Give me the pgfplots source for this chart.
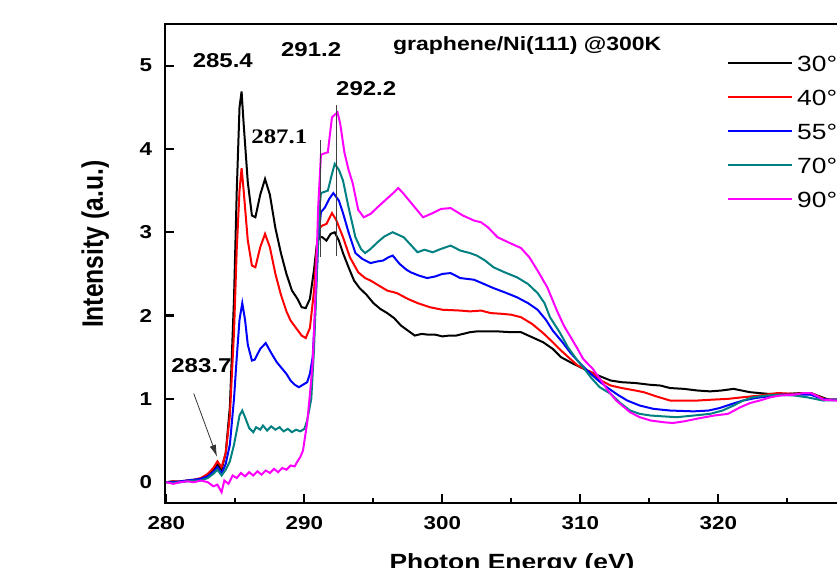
\documentclass[border=0pt]{standalone}
\usepackage{pgfplots}
\pgfplotsset{compat=1.18}
\usepackage{fontspec}
\setmainfont{Liberation Sans}[FakeStretch=1.2]
\newfontfamily\serifstretch{Liberation Serif}[FakeStretch=1.2]
\newfontfamily\plainsans{Liberation Sans}
\usetikzlibrary{arrows.meta}
\definecolor{cteal}{RGB}{0,128,128}
\definecolor{cmag}{RGB}{255,0,255}

\pgfplotstableread{
x y
280.0 0.00
280.5 0.01
281.0 0.00
281.5 0.02
282.0 0.02
282.5 0.04
283.0 0.08
283.4 0.14
283.7 0.22
284.0 0.15
284.3 0.35
284.6 0.9
284.9 2.2
285.1 3.5
285.3 4.5
285.45 4.69
285.6 4.3
285.9 3.6
286.2 3.2
286.45 3.18
286.8 3.45
287.15 3.64
287.5 3.45
287.9 3.05
288.3 2.75
288.7 2.5
289.1 2.3
289.5 2.2
289.8 2.1
290.1 2.09
290.4 2.2
290.7 2.55
290.9 2.85
291.1 2.95
291.3 2.94
291.6 2.9
291.9 2.98
292.2 3.0
292.5 2.9
292.8 2.75
293.2 2.58
293.6 2.42
294.0 2.33
294.5 2.25
295.0 2.15
295.5 2.08
296.0 2.03
296.5 1.97
297.0 1.88
297.5 1.82
298.0 1.76
298.5 1.78
299.0 1.77
299.5 1.77
300.0 1.75
300.5 1.76
301.0 1.76
301.5 1.78
302.0 1.80
302.5 1.81
303.0 1.81
304.0 1.81
305.0 1.80
305.7 1.80
306.5 1.74
307.3 1.68
308.0 1.60
308.6 1.50
309.5 1.42
310.5 1.34
311.3 1.28
312.2 1.22
313.0 1.20
314.0 1.19
315.0 1.17
315.8 1.16
316.5 1.13
317.5 1.12
318.5 1.10
319.4 1.09
320.2 1.10
321.1 1.12
322.3 1.08
323.6 1.06
325.0 1.06
326.0 1.07
326.7 1.07
327.5 1.02
328.0 0.99
329.0 0.99
330.0 0.99
}\tblA

\pgfplotstableread{
x y
280.0 0.00
280.5 0.01
281.0 0.01
281.5 0.02
282.0 0.03
282.5 0.05
283.0 0.10
283.4 0.17
283.7 0.25
284.0 0.18
284.3 0.35
284.6 0.8
284.9 1.8
285.1 2.8
285.3 3.5
285.45 3.77
285.6 3.5
285.9 2.9
286.2 2.6
286.45 2.58
286.8 2.82
287.15 2.98
287.5 2.82
287.9 2.5
288.3 2.25
288.7 2.05
289.0 1.94
289.4 1.85
289.8 1.76
290.1 1.73
290.4 1.85
290.7 2.3
290.9 2.8
291.1 3.05
291.3 3.08
291.6 3.1
292.0 3.23
292.3 3.15
292.8 2.94
293.3 2.7
293.9 2.52
294.4 2.45
294.8 2.42
295.5 2.35
296.0 2.30
296.7 2.27
297.5 2.20
298.2 2.15
299.1 2.10
300.0 2.07
301.3 2.06
302.0 2.05
302.8 2.06
303.5 2.03
304.4 2.02
305.0 2.01
305.7 1.98
306.5 1.90
307.3 1.79
308.0 1.68
308.6 1.58
309.2 1.49
309.8 1.40
310.9 1.31
311.5 1.22
312.2 1.16
313.0 1.13
314.0 1.10
314.6 1.08
315.5 1.03
316.5 0.98
317.5 0.98
318.5 0.98
319.5 0.99
320.7 1.00
321.8 1.02
323.0 1.04
324.3 1.07
325.5 1.06
326.7 1.07
327.5 1.01
328.0 0.99
330.0 0.99
}\tblB

\pgfplotstableread{
x y
280.0 0.00
280.5 0.00
281.0 0.01
281.5 0.02
282.0 0.03
282.5 0.04
283.0 0.07
283.4 0.12
283.7 0.18
284.0 0.10
284.3 0.22
284.6 0.45
284.9 1.0
285.1 1.5
285.3 1.95
285.5 2.15
285.7 1.95
285.9 1.65
286.2 1.46
286.4 1.47
286.8 1.6
287.2 1.67
287.6 1.55
288.0 1.44
288.3 1.38
288.7 1.30
289.0 1.22
289.3 1.17
289.6 1.14
289.9 1.17
290.2 1.20
290.4 1.30
290.6 1.50
290.8 2.1
291.0 2.9
291.2 3.24
291.5 3.3
291.8 3.4
292.1 3.47
292.5 3.38
292.8 3.23
293.2 3.0
293.7 2.75
294.2 2.68
294.8 2.63
295.3 2.65
295.7 2.66
296.1 2.7
296.4 2.72
296.9 2.62
297.4 2.55
297.7 2.52
298.3 2.48
298.9 2.45
299.5 2.47
300.0 2.50
300.6 2.51
301.3 2.45
302.3 2.43
303.0 2.38
303.7 2.33
304.5 2.28
305.4 2.22
306.2 2.15
306.9 2.07
307.5 1.95
308.0 1.82
308.7 1.68
309.3 1.55
309.9 1.44
310.5 1.34
311.3 1.22
312.0 1.13
312.7 1.05
313.4 0.98
314.3 0.92
315.3 0.88
316.5 0.86
318.2 0.85
319.3 0.86
320.1 0.89
321.0 0.94
321.8 0.98
322.7 1.01
323.6 1.03
324.5 1.05
325.5 1.05
326.7 1.05
327.5 1.00
328.0 0.99
330.0 0.99
}\tblC

\pgfplotstableread{
x y
280.0 0.00
280.5 -0.01
281.0 0.00
281.5 0.01
282.0 0.02
282.5 0.02
283.0 0.05
283.4 0.10
283.7 0.15
284.0 0.08
284.3 0.15
284.6 0.25
284.9 0.45
285.1 0.62
285.3 0.80
285.5 0.86
285.7 0.78
286.0 0.65
286.3 0.60
286.5 0.66
286.8 0.63
287.0 0.68
287.3 0.62
287.6 0.67
287.9 0.63
288.2 0.66
288.5 0.61
288.8 0.64
289.1 0.60
289.4 0.63
289.7 0.61
290.0 0.64
290.2 0.74
290.5 1.0
290.7 1.6
290.9 2.5
291.1 3.3
291.2 3.47
291.7 3.5
292.0 3.7
292.2 3.82
292.5 3.75
292.8 3.62
293.2 3.3
293.7 2.94
294.1 2.8
294.4 2.75
294.8 2.8
295.3 2.88
295.8 2.95
296.4 3.0
296.8 2.97
297.2 2.94
297.7 2.85
298.2 2.76
298.7 2.79
299.3 2.76
299.9 2.80
300.6 2.84
301.3 2.78
302.0 2.75
302.5 2.72
303.1 2.66
303.7 2.58
304.5 2.52
305.4 2.46
306.2 2.38
306.9 2.27
307.4 2.15
307.8 1.98
308.5 1.80
309.1 1.62
309.7 1.48
310.2 1.38
310.8 1.25
311.4 1.14
312.2 1.06
312.9 0.95
313.6 0.86
314.3 0.82
315.1 0.80
316.0 0.79
317.0 0.78
318.2 0.80
319.4 0.82
320.3 0.86
321.1 0.92
321.8 0.98
322.5 1.02
323.5 1.04
324.3 1.05
325.5 1.04
326.4 1.02
327.0 1.00
327.6 0.98
330.0 0.99
}\tblD

\pgfplotstableread{
x y
280.0 0.00
280.5 -0.02
281.0 0.00
281.5 0.01
282.0 0.00
282.5 0.02
283.0 0.00
283.4 -0.05
283.7 -0.03
284.0 -0.12
284.2 0.02
284.5 -0.02
284.8 0.08
285.1 0.05
285.4 0.11
285.7 0.07
286.0 0.12
286.3 0.08
286.6 0.13
286.9 0.09
287.2 0.14
287.5 0.11
287.8 0.16
288.1 0.12
288.4 0.17
288.7 0.15
289.0 0.20
289.3 0.19
289.5 0.25
289.7 0.30
289.9 0.38
290.2 0.71
290.4 1.05
290.6 1.43
290.8 2.22
291.0 3.3
291.2 3.93
291.5 3.95
291.7 3.96
292.0 4.38
292.4 4.44
292.6 4.3
292.9 3.96
293.2 3.75
293.5 3.59
293.9 3.27
294.3 3.18
294.8 3.22
295.3 3.30
295.7 3.36
296.1 3.42
296.5 3.48
296.8 3.53
297.1 3.48
297.4 3.42
298.0 3.30
298.6 3.18
299.3 3.23
299.9 3.28
300.6 3.29
301.0 3.25
301.5 3.20
302.3 3.14
302.8 3.12
303.3 3.06
304.0 2.94
304.9 2.87
305.7 2.81
306.3 2.70
306.9 2.54
307.6 2.34
308.3 2.06
308.8 1.88
309.3 1.74
309.8 1.60
310.2 1.48
310.9 1.36
311.5 1.22
312.0 1.10
312.6 0.98
313.6 0.84
314.3 0.78
315.1 0.74
316.0 0.72
316.7 0.71
317.5 0.73
318.7 0.77
319.7 0.80
320.7 0.82
321.6 0.90
322.3 0.95
323.0 0.98
323.8 1.02
324.5 1.04
325.5 1.05
326.2 1.07
326.7 1.07
327.2 1.03
327.6 0.99
328.5 0.98
330.0 0.98
}\tblE

\begin{document}
\begin{tikzpicture}
\path[use as bounding box] (0,0) rectangle (627.75pt,425.25pt);
\begin{axis}[
  at={(123.75pt,48pt)}, anchor=south west,
  scale only axis, width=518.5pt, height=359.25pt,
  xmin=279.9, xmax=330, ymin=-0.25, ymax=5.5,
  axis line style={line width=2.2pt},
  xtick={280,290,...,320}, minor xtick={285,295,...,325},
  ytick={0,1,...,5},
  tick align=inside, xtick pos=bottom, ytick pos=left,
  major tick length=7pt, minor tick length=4pt,
  tick style={line width=1.6pt, black},
  /pgf/number format/assume math mode=true,
  ticklabel style={font=\fontsize{14}{16}\selectfont\bfseries},
  xticklabel style={inner sep=0pt, yshift=-10pt},
  yticklabel style={inner sep=0pt, xshift=-9.5pt},
  xlabel={Photon Energy (eV)},
  xlabel style={at={(axis description cs:0.502,0)}, anchor=north, inner sep=0pt, yshift=-38pt, font=\fontsize{16.5}{19}\selectfont\bfseries},
  ylabel={\scalebox{1}[1.2]{\plainsans\bfseries Intensity (a.u.)}},
  ylabel style={at={(axis description cs:-0.101,0.54)}, anchor=center, inner sep=0pt, font=\fontsize{18.5}{20}\selectfont},
  every axis plot/.append style={line width=1.5pt},
]
\addplot[black] table[x=x,y=y] {\tblA};
\addplot[red] table[x=x,y=y] {\tblB};
\addplot[blue] table[x=x,y=y] {\tblC};
\addplot[cteal] table[x=x,y=y] {\tblD};
\addplot[cmag] table[x=x,y=y] {\tblE};

% legend (samples and labels)
\draw[black, line width=1.3pt] (axis description cs:0.8143,0.918) -- (axis description cs:0.9069,0.918);
\draw[red,   line width=1.3pt] (axis description cs:0.8143,0.847) -- (axis description cs:0.9069,0.847);
\draw[blue,  line width=1.3pt] (axis description cs:0.8143,0.776) -- (axis description cs:0.9069,0.776);
\draw[cteal, line width=1.3pt] (axis description cs:0.8143,0.705) -- (axis description cs:0.9069,0.705);
\draw[cmag,  line width=1.3pt] (axis description cs:0.8143,0.634) -- (axis description cs:0.9069,0.634);
\node[anchor=base west, inner sep=0pt, font=\fontsize{16.5}{20}\selectfont] at (axis description cs:0.9141,0.9013) {30°};
\node[anchor=base west, inner sep=0pt, font=\fontsize{16.5}{20}\selectfont] at (axis description cs:0.9141,0.8303) {40°};
\node[anchor=base west, inner sep=0pt, font=\fontsize{16.5}{20}\selectfont] at (axis description cs:0.9141,0.7593) {55°};
\node[anchor=base west, inner sep=0pt, font=\fontsize{16.5}{20}\selectfont] at (axis description cs:0.9141,0.6883) {70°};
\node[anchor=base west, inner sep=0pt, font=\fontsize{16.5}{20}\selectfont] at (axis description cs:0.9141,0.6173) {90°};

\draw[line width=0.7pt, black!75] (axis cs:291.2,4.11) -- (axis cs:291.2,2.70);
\draw[line width=0.7pt, black!75] (axis cs:292.35,4.53) -- (axis cs:292.35,2.71);
\draw[line width=0.6pt, black!80, -{Latex[length=9pt,width=5pt]}] (axis cs:281.98,1.065) -- (axis cs:283.67,0.304);

\node[anchor=base, inner sep=0pt, font=\fontsize{14.4}{17}\selectfont\bfseries] at (axis cs:306.15,5.178) {graphene/Ni(111) @300K};
\node[anchor=base, inner sep=0pt, font=\fontsize{15}{17}\selectfont\bfseries] at (axis cs:284.09,4.978) {285.4};
\node[anchor=base, inner sep=0pt, font=\fontsize{15}{17}\selectfont\bfseries] at (axis cs:290.49,5.114) {291.2};
\node[anchor=base, inner sep=0pt, font=\fontsize{15}{17}\selectfont\bfseries] at (axis cs:294.48,4.638) {292.2};
\node[anchor=base, inner sep=0pt, font=\fontsize{15.5}{17}\selectfont\serifstretch\bfseries] at (axis cs:288.18,4.07) {287.1};
\node[anchor=base, inner sep=0pt, font=\fontsize{15}{17}\selectfont\bfseries] at (axis cs:282.54,1.312) {283.7};
\end{axis}
\end{tikzpicture}
\end{document}
